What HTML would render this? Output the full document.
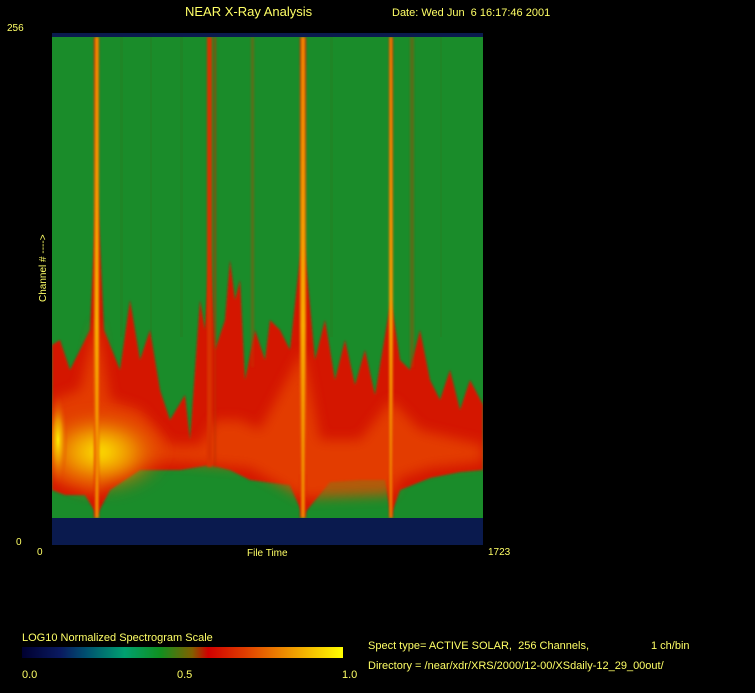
<!DOCTYPE html>
<html><head><style>
html,body{margin:0;padding:0;background:#000;width:755px;height:693px;overflow:hidden}
svg text{font-family:"Liberation Sans",sans-serif;fill:#ffff66;white-space:pre}
</style></head><body>
<svg width="755" height="693" viewBox="0 0 755 693" xmlns="http://www.w3.org/2000/svg">
<defs>
<filter id="b1"><feGaussianBlur stdDeviation="1"/></filter>
<filter id="b2"><feGaussianBlur stdDeviation="2"/></filter>
<filter id="b6"><feGaussianBlur stdDeviation="6"/></filter>
<radialGradient id="yg"><stop offset="0" stop-color="#ffee00"/><stop offset="0.45" stop-color="#f0a000" stop-opacity="0.85"/><stop offset="1" stop-color="#e04000" stop-opacity="0"/></radialGradient>
<linearGradient id="cb" x1="0" x2="1"><stop offset="0" stop-color="#000030"/><stop offset="0.12" stop-color="#0a1a60"/><stop offset="0.2" stop-color="#005070"/><stop offset="0.32" stop-color="#00a070"/><stop offset="0.43" stop-color="#109020"/><stop offset="0.53" stop-color="#806000"/><stop offset="0.58" stop-color="#d00000"/><stop offset="0.7" stop-color="#e04000"/><stop offset="0.85" stop-color="#f0a000"/><stop offset="1" stop-color="#ffff00"/></linearGradient>
<linearGradient id="st" x1="0" y1="0" x2="0" y2="1"><stop offset="0" stop-color="#e03000"/><stop offset="0.6" stop-color="#f09000"/><stop offset="1" stop-color="#e02000"/></linearGradient>
<clipPath id="pc"><rect x="52" y="37" width="431" height="481"/></clipPath>
</defs>
<text x="185" y="16" font-size="13">NEAR X-Ray Analysis</text>
<text x="392" y="16" font-size="11">Date: Wed Jun  6 16:17:46 2001</text>
<text x="7" y="31" font-size="10">256</text>
<text x="16" y="545" font-size="10">0</text>
<text x="37" y="555" font-size="10">0</text>
<text x="247" y="556" font-size="10">File Time</text>
<text x="488" y="555" font-size="10">1723</text>
<text x="46" y="302" font-size="10" transform="rotate(-90 46 302)">Channel # ----&gt;</text>
<rect x="52" y="33" width="431" height="512" fill="#0a1a4e"/>
<g clip-path="url(#pc)">
<rect x="52" y="37" width="431" height="481" fill="#1a8c2a"/>
<g fill="#2a7a20" opacity="0.35">
<rect x="120" y="37" width="3" height="300"/><rect x="150" y="37" width="2" height="300"/><rect x="180" y="37" width="3" height="300"/><rect x="330" y="37" width="3" height="300"/><rect x="440" y="37" width="2" height="300"/>
</g>
<polygon filter="url(#b1)" fill="#d41400" points="52,345 60,340 70,370 90,330 97,180 104,330 120,370 130,300 140,360 150,330 160,390 170,420 185,395 190,440 200,300 205,330 210,250 215,350 225,320 230,260 235,300 240,280 245,380 255,330 265,360 270,320 280,330 290,350 303,230 315,360 325,320 335,380 345,340 355,385 365,350 375,395 391,300 400,360 410,370 420,330 430,380 440,400 450,370 460,410 470,380 483,405 483,470 460,472 430,478 400,490 391,515 385,480 360,480 330,482 303,515 290,485 250,480 230,470 210,465 180,470 140,470 110,490 97,515 85,495 65,495 52,490"/>
<polygon filter="url(#b6)" fill="#e84800" opacity="0.75" points="52,400 80,390 97,320 110,400 140,410 170,445 200,445 215,420 240,420 260,430 303,350 320,440 360,440 391,400 420,430 483,445 483,462 430,468 400,478 391,495 303,498 250,468 180,462 140,462 110,478 97,495 60,482 52,475"/>
<ellipse cx="100" cy="452" rx="70" ry="45" fill="url(#yg)" filter="url(#b6)"/>
<ellipse cx="58" cy="440" rx="10" ry="45" fill="url(#yg)"/>
<g filter="url(#b1)">
<rect x="94" y="37" width="5" height="481" fill="url(#st)"/>
<rect x="96" y="37" width="2" height="481" fill="#ffcc00" opacity="0.7"/>
<rect x="300" y="37" width="6" height="481" fill="url(#st)"/>
<rect x="302" y="37" width="2" height="481" fill="#ffcc00" opacity="0.7"/>
<rect x="389" y="37" width="4" height="481" fill="url(#st)"/>
<rect x="390" y="37" width="1.5" height="481" fill="#ffbb00" opacity="0.7"/>
<rect x="207" y="37" width="5" height="430" fill="#d83000"/>
<rect x="214" y="37" width="2" height="430" fill="#c03000" opacity="0.7"/>
<rect x="251" y="37" width="3" height="330" fill="#c04000" opacity="0.4"/>
<rect x="410" y="37" width="4" height="330" fill="#b84000" opacity="0.4"/>
</g>
</g>
<text x="22" y="641" font-size="11">LOG10 Normalized Spectrogram Scale</text>
<rect x="22" y="647" width="321" height="11" fill="url(#cb)"/>
<text x="22" y="678" font-size="11">0.0</text>
<text x="177" y="678" font-size="11">0.5</text>
<text x="342" y="678" font-size="11">1.0</text>
<text x="368" y="649" font-size="11">Spect type= ACTIVE SOLAR,  256 Channels,</text>
<text x="651" y="649" font-size="11">1 ch/bin</text>
<text x="368" y="669" font-size="11">Directory = /near/xdr/XRS/2000/12-00/XSdaily-12_29_00out/</text>
</svg>
</body></html>
